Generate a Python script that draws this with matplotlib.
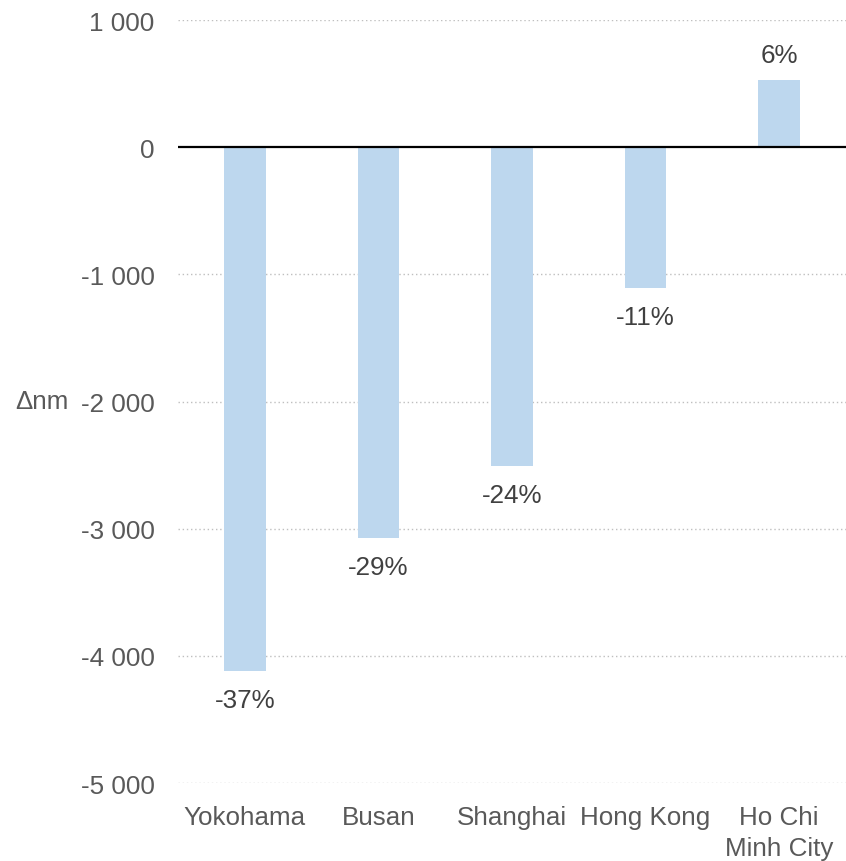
import numpy as np
import matplotlib.pyplot as plt

plt.rcParams['font.family'] = ['Liberation Sans', 'DejaVu Sans']

ports = ["Yokohama", "Busan", "Shanghai", "Hong Kong", "Ho Chi\nMinh City"]
delta_nm = [-4120, -3070, -2510, -1105, 530]
pct_labels = ["-37%", "-29%", "-24%", "-11%", "6%"]
yticks = [1000, 0, -1000, -2000, -3000, -4000, -5000]

fig = plt.figure(figsize=(8.46, 8.62), dpi=100)
ax = fig.add_axes([178/846, 1 - 784/862, 668/846, (784 - 21)/862])

x = np.arange(len(ports))
ax.bar(x, delta_nm, width=0.31, color="#BDD7EE", zorder=2)

# percentage change written beyond the end of each bar
for xi, v, lab in zip(x, delta_nm, pct_labels):
    off = -29 if v < 0 else 25
    ax.annotate(lab, (xi, v), xytext=(0, off), textcoords="offset pixels",
                ha="center", va="center", fontsize=18.7, color="#404040")

ax.set_xlim(-0.5, len(ports) - 0.5)
ax.set_ylim(-5000, 1000)
ax.set_yticks(yticks)
ax.set_yticklabels([f"{t:,}".replace(",", " ") for t in yticks])
ax.set_xticks(x)
ax.set_xticklabels(ports, linespacing=1.35)

for t in yticks:
    if t != 0:
        ax.axhline(t, color="#BFBFBF", lw=1, ls=(0, (1, 2)), zorder=1)
ax.axhline(0, color="black", lw=1.6, zorder=3)

for s in ax.spines.values():
    s.set_visible(False)
ax.tick_params(axis="both", length=0, labelsize=18.7, labelcolor="#595959")
ax.tick_params(axis="y", pad=17)
ax.tick_params(axis="x", pad=16)

ax.set_ylabel("Δnm", rotation=0, fontsize=18.7, color="#595959", va="center")
ax.yaxis.set_label_coords(-0.204, (-2000 + 5000) / 6000)

fig.savefig("out.png", dpi=100)
